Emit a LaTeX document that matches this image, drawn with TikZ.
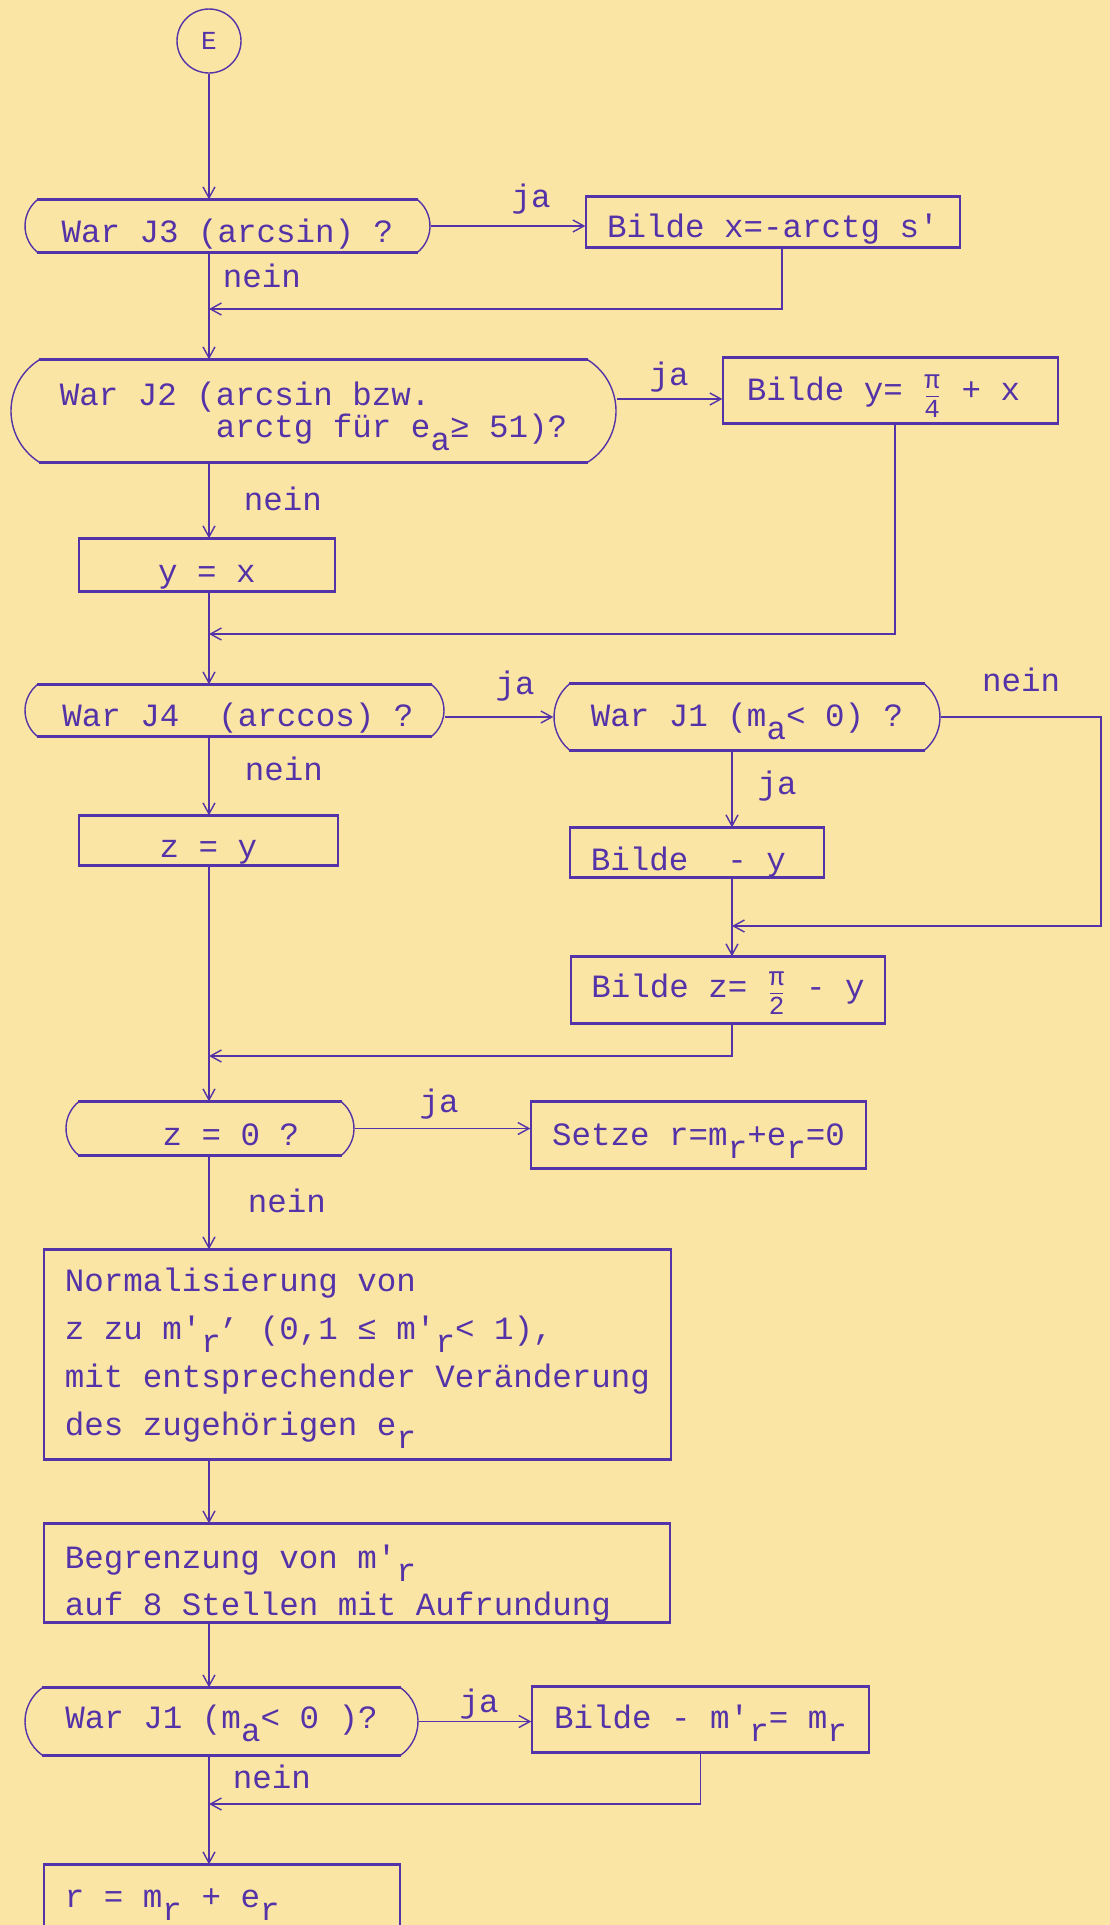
\documentclass[tikz,border=0pt]{standalone}
\usepackage{fontspec}
\setmonofont{Liberation Mono}
\usetikzlibrary{arrows.meta,shapes.misc,calc}
\definecolor{paper}{RGB}{250,229,164}
\definecolor{ink}{RGB}{84,50,168}
% typewriter style subscript: same size, dropped half a line
\newcommand\lowsub[1]{\raisebox{-0.42em}{#1}}
\newcommand\hicomma{\raisebox{0.5em}{,}}
% stacked fraction occupying one typewriter cell
\newcommand\tfr[2]{\makebox[0.6em][c]{\fontsize{26}{26}\selectfont
  \makebox[0pt][c]{\raisebox{12pt}{#1}}%
  \makebox[0pt][c]{\rule[3pt]{13pt}{1.5pt}}%
  \makebox[0pt][c]{\raisebox{-17pt}{#2}}}}

\begin{document}
\begin{tikzpicture}[x=1pt,y=-1pt,
  every node/.style={text=ink},
  tw/.style={font=\ttfamily\fontsize{32.5}{48}\selectfont},
  hedge/.style={draw=ink,line width=3pt},
  box/.style={tw, rectangle, draw=ink, line width=1.4pt, inner sep=0pt,
    append after command={(\tikzlastnode.north west) edge[hedge] (\tikzlastnode.north east)
      (\tikzlastnode.south west) edge[hedge] (\tikzlastnode.south east)}},
  ask/.style={tw, rounded rectangle, rounded rectangle arc length=100, draw=ink,
    line width=1.4pt, inner sep=0pt,
    append after command={(\tikzlastnode.north west) edge[hedge] (\tikzlastnode.north east)
      (\tikzlastnode.south west) edge[hedge] (\tikzlastnode.south east)}},
  lab/.style={tw, anchor=base},
  arr/.style={draw=ink, line width=1.7pt,
    -{Straight Barb[length=11pt,width=12pt,line width=1.4pt]}},
]
\useasboundingbox (0,0) rectangle (1110,1925);
\fill[paper] (0,0) rectangle (1110,1925);
\clip (0,0) rectangle (1110,1925);

% start connector
\node[circle, draw=ink, line width=1.4pt, minimum size=64pt, inner sep=0pt,
  font=\ttfamily\fontsize{26}{26}\selectfont] (E) at (209,41) {E};

% first decision
\node[ask, minimum width=405pt, minimum height=52pt, text height=34pt, text depth=2pt]
  (J3) at (227.5,226) {War J3 (arcsin) ?};
\node[box, minimum width=374pt, minimum height=50pt, text height=32pt, text depth=2pt]
  (X) at (773,222) {Bilde x=-arctg s'};

% second decision
\node[ask, rounded rectangle arc length=115, minimum width=605pt, minimum height=102pt,
  font=\ttfamily\fontsize{32.5}{32}\selectfont, align=left, text height=56pt, text depth=4pt]
  (J2) at (313.5,411) {War J2 (arcsin bzw.\\\hspace*{156pt}arctg für e\lowsub{a}≥ 51)?};
\node[box, minimum width=335pt, minimum height=65pt, text height=21pt, text depth=2pt]
  (Y) at (890.5,390.5) {Bilde y= \tfr{π}{4} + x\hspace*{14pt}};
\node[box, minimum width=256pt, minimum height=52pt, text height=36pt, text depth=2pt]
  (yx) at (207,565) {y = x};

% third decision
\node[ask, minimum width=419pt, minimum height=51pt, text height=33pt, text depth=2pt]
  (J4) at (234.5,710.5) {\hspace*{7pt}War J4~ (arccos) ?};
\node[ask, minimum width=386pt, minimum height=66pt, text height=20pt, text depth=2pt]
  (J1) at (747,717) {War J1 (m\lowsub{a}< 0) ?};
\node[box, minimum width=259pt, minimum height=49pt, text height=35pt, text depth=2pt]
  (zy) at (208.5,840.5) {z = y};
\node[box, minimum width=254pt, minimum height=49pt, text height=37pt, text depth=2pt]
  (BmY) at (697,852.5) {Bilde~ - y\hspace*{17pt}};
\node[box, minimum width=314pt, minimum height=66pt, text height=16pt, text depth=2pt]
  (Bz) at (728,990) {Bilde z= \tfr{π}{2} - y};

% zero test
\node[ask, minimum width=288pt, minimum height=53pt, text height=35pt, text depth=2pt]
  (z0) at (210,1128.5) {\hspace*{42pt}z = 0 ?};
\node[box, minimum width=335pt, minimum height=66pt, text height=22pt, text depth=2pt]
  (Setze) at (698.5,1135) {Setze r=m\lowsub{r}+e\lowsub{r}=0};

% normalisation and rounding
\node[box, minimum width=627pt, minimum height=209pt, align=left,
  text height=170pt, text depth=9pt]
  (Norm) at (357.5,1354.5) {Normalisierung von\\
    z zu m'\lowsub{r}\hicomma{} (0,1 ≤ m'\lowsub{r}< 1),\\
    mit entsprechender Veränderung\\
    des zugehörigen e\lowsub{r}};
\node[box, minimum width=626pt, minimum height=98pt, align=left,
  font=\ttfamily\fontsize{32.5}{47}\selectfont, text height=88pt, text depth=4pt]
  (Beg) at (357,1573) {Begrenzung von m'\lowsub{r}\\
    auf 8 Stellen mit Aufrundung\hspace*{38pt}};

% sign test
\node[ask, rounded rectangle arc length=108, minimum width=393pt, minimum height=67pt,
  text height=15pt, text depth=2pt]
  (J1b) at (221.5,1721.5) {War J1 (m\lowsub{a}< 0 )?};
\node[box, minimum width=337pt, minimum height=65pt, text height=19pt, text depth=2pt]
  (Bm) at (700.5,1719.5) {Bilde - m'\lowsub{r}= m\lowsub{r}};
\node[box, minimum width=356pt, minimum height=135pt, text height=20pt, text depth=71pt]
  (Last) at (222,1932.5) {r = m\lowsub{r} + e\lowsub{r}\hspace*{99.5pt}};

% junction points on the flow lines
\coordinate (m1) at (209,309);
\coordinate (m2) at (209,634);
\coordinate (m3) at (732,926);
\coordinate (m4) at (209,1056);
\coordinate (m5) at (209,1804);

% branch labels
\node[lab] (ja1) at (531,207) {ja};
\node[lab] (nein1) at (262,287) {nein};
\node[lab] (ja2) at (669,385) {ja};
\node[lab] (nein2) at (283,510) {nein};
\node[lab] (ja3) at (515,694) {ja};
\node[lab] (nein3) at (1021,691) {nein};
\node[lab] (nein4) at (284,780) {nein};
\node[lab] (ja4) at (777,794) {ja};
\node[lab] (ja5) at (439,1112) {ja};
\node[lab] (nein5) at (287,1212) {nein};
\node[lab] (ja6) at (479,1712) {ja};
\node[lab] (nein6) at (272,1788) {nein};

% flow lines
\draw[arr] (E.south) -- (J3.north -| E);
\draw[arr] (J3.east) -- (J3.east -| X.west);
\draw[arr] (J3.south -| E) -- (J2.north -| E);
\draw[arr] ([xshift=9pt]X.south) |- (m1);
\draw[arr] ([yshift=12pt]J2.east) -- ([yshift=12pt]J2.east -| Y.west);
\draw[arr] (J2.south -| E) -- (yx.north -| E);
\draw[arr] (yx.south -| E) -- (J4.north -| E);
\draw[arr] ([xshift=4.5pt]Y.south) |- (m2);
\draw[arr] (J1.west -| J4.east) -- (J1.west);
\draw[arr] (J1.east) -- ++(160,0) |- (m3);
\draw[arr] (J1.south -| m3) -- (BmY.north -| m3);
\draw[arr] (BmY.south -| m3) -- (Bz.north -| m3);
\draw[arr] (J4.south -| E) -- (zy.north -| E);
\draw[arr] (zy.south -| E) -- (z0.north -| E);
\draw[arr] (Bz.south -| m3) |- (m4);
\draw[arr] (z0.east) -- (z0.east -| Setze.west);
\draw[arr] (z0.south -| E) -- (Norm.north -| E);
\draw[arr] (Norm.south -| E) -- (Beg.north -| E);
\draw[arr] (Beg.south -| E) -- (J1b.north -| E);
\draw[arr] (J1b.east) -- (J1b.east -| Bm.west);
\draw[arr] (J1b.south -| E) -- (Last.north -| E);
\draw[arr] (Bm.south) |- (m5);
\end{tikzpicture}
\end{document}
